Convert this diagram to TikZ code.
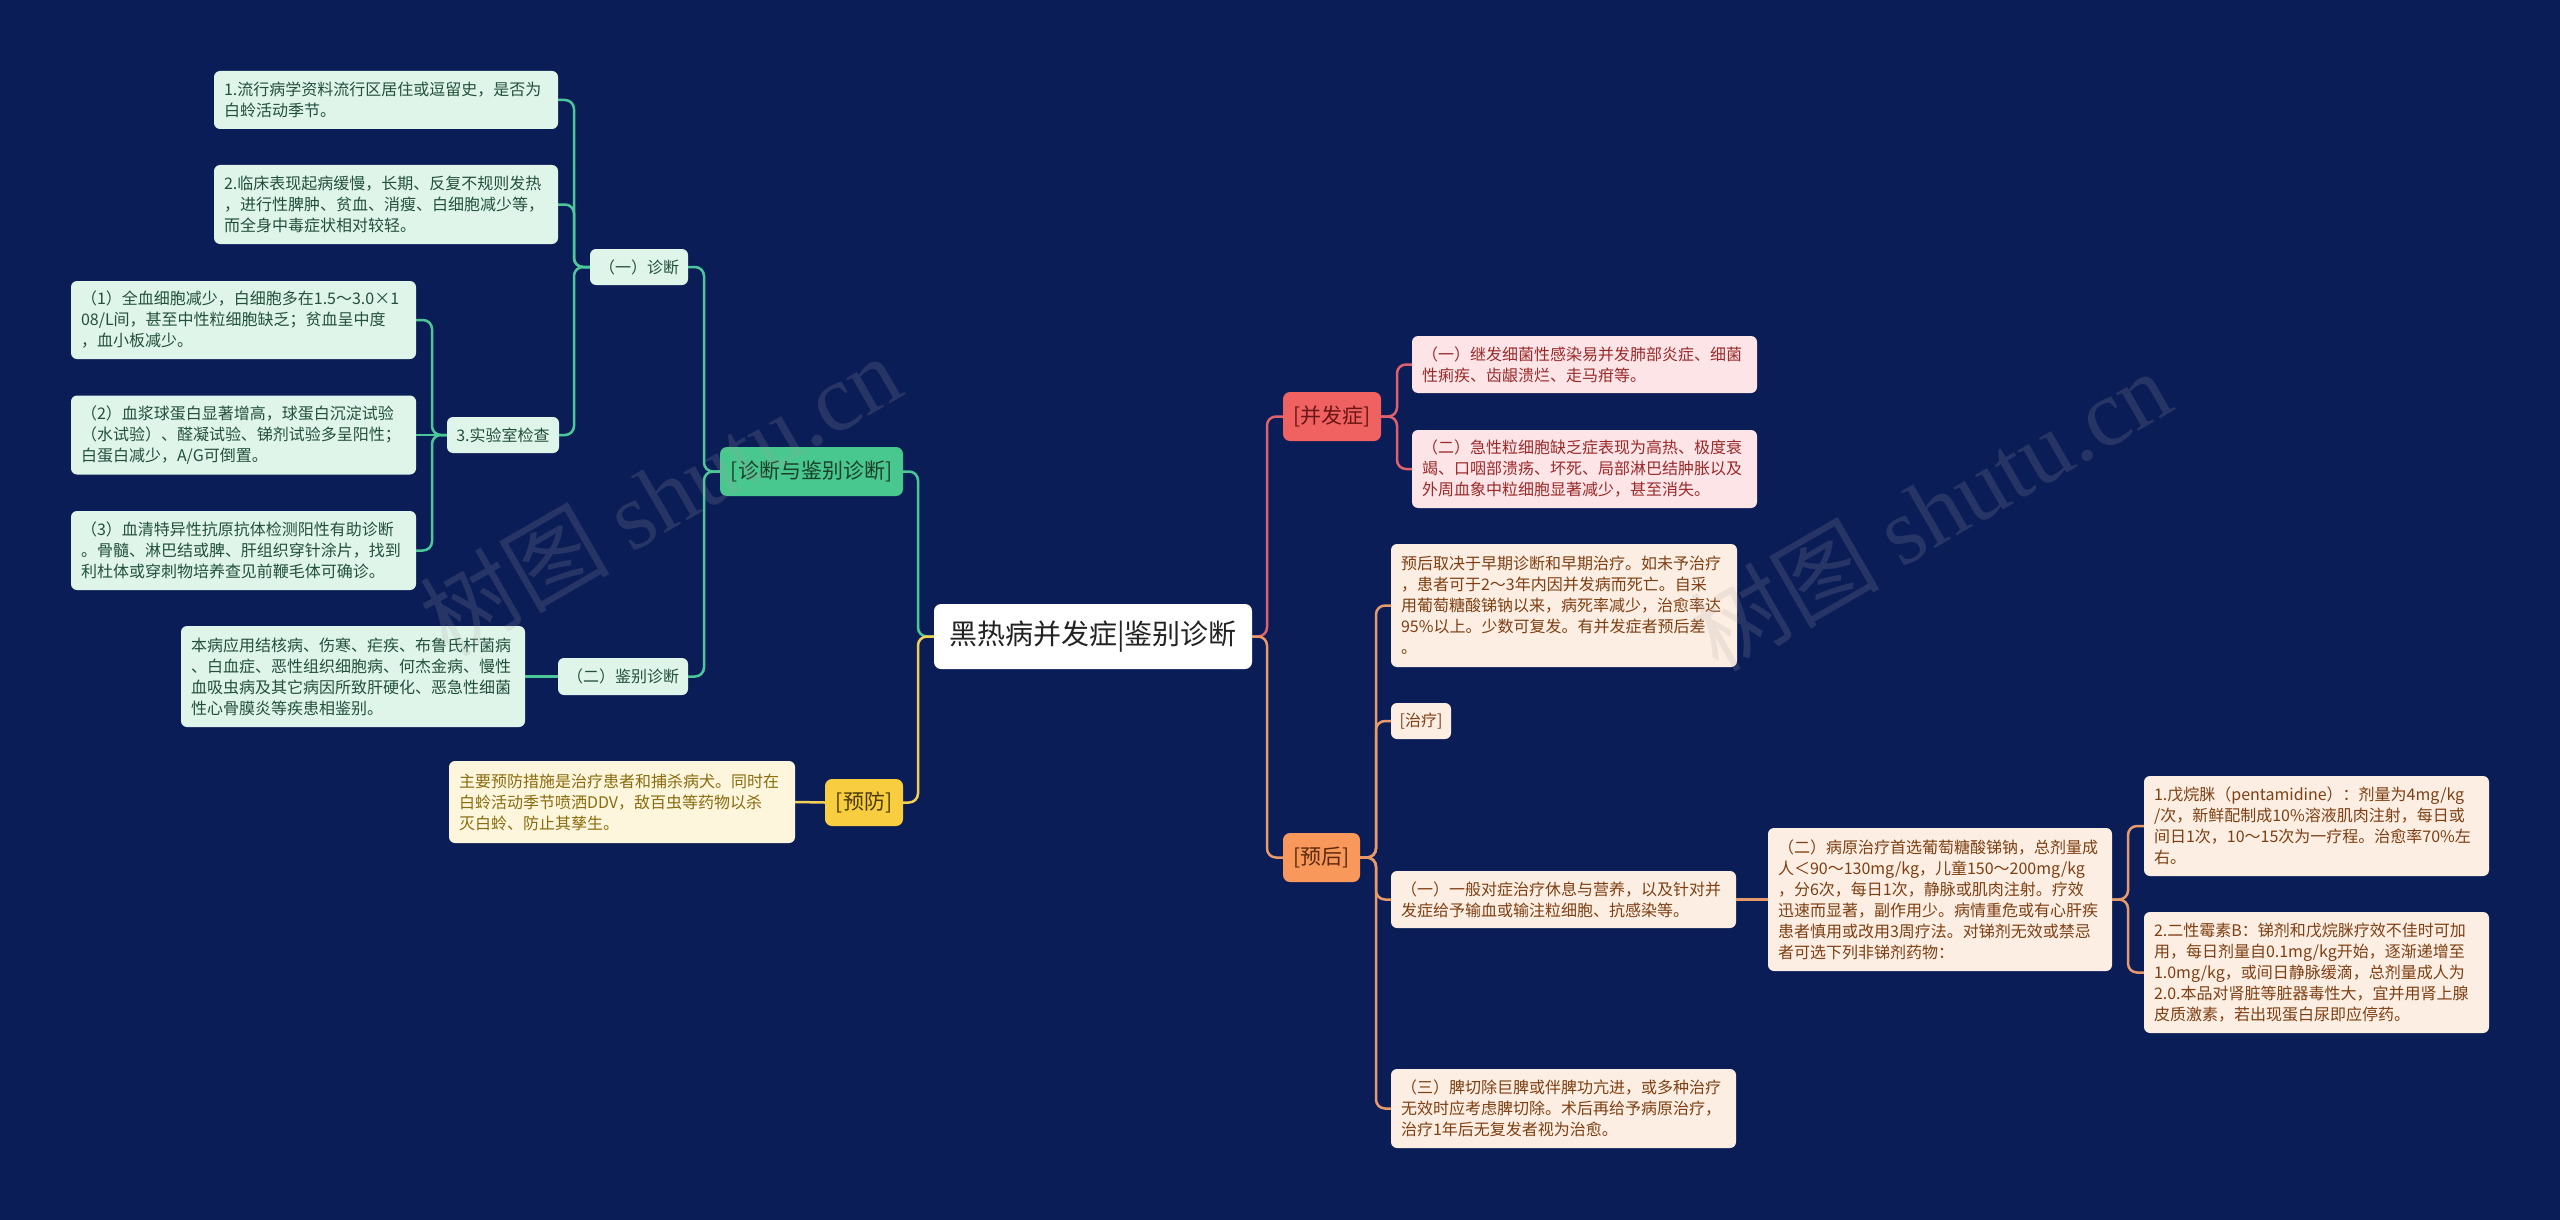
\documentclass[tikz,border=0pt]{standalone}
\usepackage{fontspec}
\setmainfont{Noto Sans CJK SC}
\newfontfamily\wmserif{Liberation Serif}
\definecolor{bg}{HTML}{0B1D57}
\definecolor{gline}{HTML}{4CC79A}
\definecolor{gmain}{HTML}{48C88E}
\definecolor{gmaintext}{HTML}{1C3F2C}
\definecolor{gleaf}{HTML}{DFF5EA}
\definecolor{gtext}{HTML}{23503B}
\definecolor{rline}{HTML}{E0606E}
\definecolor{rmain}{HTML}{F06262}
\definecolor{rmaintext}{HTML}{6A1515}
\definecolor{rleaf}{HTML}{FDE4E7}
\definecolor{rtext}{HTML}{9A2A2A}
\definecolor{oline}{HTML}{E99A6A}
\definecolor{omain}{HTML}{F8985A}
\definecolor{omaintext}{HTML}{5C2A0A}
\definecolor{oleaf}{HTML}{FDEEE3}
\definecolor{otext}{HTML}{7E3F12}
\definecolor{yline}{HTML}{F2CF55}
\definecolor{ymain}{HTML}{F8CD40}
\definecolor{ymaintext}{HTML}{4A3A05}
\definecolor{yleaf}{HTML}{FDF6DC}
\definecolor{ytext}{HTML}{8A6B0E}
\definecolor{roottext}{HTML}{222222}
\begin{document}
\begin{tikzpicture}[x=1pt,y=-1pt,
  box/.style={rounded corners=6pt, inner ysep=0pt, inner xsep=10pt, align=left, font=\fontsize{16}{21}\selectfont},
  midbox/.style={rounded corners=6pt, inner sep=0pt, align=center, font=\fontsize{16}{21}\selectfont},
  mainbox/.style={rounded corners=7pt, inner sep=0pt, align=center, font=\fontsize{21}{25}\selectfont},
  gleafbox/.style={box, fill=gleaf, text=gtext},
  gmid/.style={midbox, fill=gleaf, text=gtext},
  rleafbox/.style={box, fill=rleaf, text=rtext},
  oleafbox/.style={box, fill=oleaf, text=otext},
  omid/.style={midbox, fill=oleaf, text=otext},
  yleafbox/.style={box, fill=yleaf, text=ytext},
  conn/.style={line width=2.5pt, rounded corners=9pt},
  wm/.style={text=gray!70, opacity=0.18, font=\fontsize{95}{100}\selectfont}
]
\useasboundingbox (0,0) rectangle (2560,1220);
\fill[bg] (0,0) rectangle (2560,1220);

% bus coordinates
\coordinate (bL) at (918,0);
\coordinate (bR) at (1267,0);
\coordinate (bDiag) at (704,0);
\coordinate (bD1) at (574,0);
\coordinate (bLab) at (432,0);
\coordinate (bComp) at (1397,0);
\coordinate (bProg) at (1376,0);
\coordinate (bP5) at (2128,0);

% root
\node[rounded corners=7pt, fill=white, text=roottext, inner sep=0pt, minimum width=318pt, minimum height=65pt, font=\fontsize{28}{32}\selectfont] (root) at (1093,636.5) {黑热病并发症|鉴别诊断};

% green branch
\node[mainbox, fill=gmain, text=gmaintext, minimum width=183pt, minimum height=49pt] (diag) at (811.5,471.5) {[诊断与鉴别诊断]};
\node[gmid, minimum width=98pt, minimum height=36pt] (d1) at (639,267) {（一）诊断};
\node[gleafbox, text width=324pt, minimum height=58pt] (t1) at (386,100) {1.流行病学资料流行区居住或逗留史，是否为\\白蛉活动季节。};
\node[gleafbox, text width=324pt, minimum height=79pt] (t2) at (386,204.5) {2.临床表现起病缓慢，长期、反复不规则发热\\，进行性脾肿、贫血、消瘦、白细胞减少等，\\而全身中毒症状相对较轻。};
\node[gmid, minimum width=112pt, minimum height=36pt] (lab) at (503,435) {3.实验室检查};
\node[gleafbox, text width=325pt, minimum height=78pt] (s1) at (243.5,320) {（1）全血细胞减少，白细胞多在1.5～3.0×1\\08/L间，甚至中性粒细胞缺乏；贫血呈中度\\，血小板减少。};
\node[gleafbox, text width=325pt, minimum height=79pt] (s2) at (243.5,435) {（2）血浆球蛋白显著增高，球蛋白沉淀试验\\（水试验）、醛凝试验、锑剂试验多呈阳性；\\白蛋白减少，A/G可倒置。};
\node[gleafbox, text width=325pt, minimum height=79pt] (s3) at (243.5,550.5) {（3）血清特异性抗原抗体检测阳性有助诊断\\。骨髓、淋巴结或脾、肝组织穿针涂片，找到\\利杜体或穿刺物培养查见前鞭毛体可确诊。};
\node[gmid, minimum width=130pt, minimum height=37pt] (d2) at (623,676.5) {（二）鉴别诊断};
\node[gleafbox, text width=324pt, minimum height=101pt] (dd) at (353,676.5) {本病应用结核病、伤寒、疟疾、布鲁氏杆菌病\\、白血症、恶性组织细胞病、何杰金病、慢性\\血吸虫病及其它病因所致肝硬化、恶急性细菌\\性心骨膜炎等疾患相鉴别。};

% yellow branch
\node[mainbox, fill=ymain, text=ymaintext, minimum width=78pt, minimum height=47pt] (prev) at (864,802.5) {[预防]};
\node[yleafbox, text width=326pt, minimum height=82pt] (pv) at (622,802) {主要预防措施是治疗患者和捕杀病犬。同时在\\白蛉活动季节喷洒DDV，敌百虫等药物以杀\\灭白蛉、防止其孳生。};

% red branch
\node[mainbox, fill=rmain, text=rmaintext, minimum width=98pt, minimum height=49pt] (comp) at (1332,416.5) {[并发症]};
\node[rleafbox, text width=325pt, minimum height=57pt] (c1) at (1584.5,364.5) {（一）继发细菌性感染易并发肺部炎症、细菌\\性痢疾、齿龈溃烂、走马疳等。};
\node[rleafbox, text width=325pt, minimum height=78pt] (c2) at (1584.5,469) {（二）急性粒细胞缺乏症表现为高热、极度衰\\竭、口咽部溃疡、坏死、局部淋巴结肿胀以及\\外周血象中粒细胞显著减少，甚至消失。};

% orange branch
\node[mainbox, fill=omain, text=omaintext, minimum width=77pt, minimum height=49pt] (prog) at (1321.5,857.5) {[预后]};
\node[oleafbox, text width=326pt, minimum height=123pt] (p1) at (1564,605.5) {预后取决于早期诊断和早期治疗。如未予治疗\\，患者可于2～3年内因并发病而死亡。自采\\用葡萄糖酸锑钠以来，病死率减少，治愈率达\\95\%以上。少数可复发。有并发症者预后差\\。};
\node[omid, minimum width=60pt, minimum height=36pt] (p2) at (1421,721) {[治疗]};
\node[oleafbox, text width=325pt, minimum height=57pt] (p3) at (1563.5,899.5) {（一）一般对症治疗休息与营养，以及针对并\\发症给予输血或输注粒细胞、抗感染等。};
\node[oleafbox, text width=325pt, minimum height=79pt] (p4) at (1563.5,1108.5) {（三）脾切除巨脾或伴脾功亢进，或多种治疗\\无效时应考虑脾切除。术后再给予病原治疗，\\治疗1年后无复发者视为治愈。};
\node[oleafbox, text width=324pt, minimum height=143pt] (p5) at (1940,899.5) {（二）病原治疗首选葡萄糖酸锑钠，总剂量成\\人＜90～130mg/kg，儿童150～200mg/kg\\，分6次，每日1次，静脉或肌肉注射。疗效\\迅速而显著，副作用少。病情重危或有心肝疾\\患者慎用或改用3周疗法。对锑剂无效或禁忌\\者可选下列非锑剂药物：};
\node[oleafbox, text width=325pt, minimum height=100pt] (p6) at (2316.5,826) {1.戊烷脒（pentamidine）：剂量为4mg/kg\\/次，新鲜配制成10\%溶液肌肉注射，每日或\\间日1次，10～15次为一疗程。治愈率70\%左\\右。};
\node[oleafbox, text width=325pt, minimum height=121pt] (p7) at (2316.5,972.5) {2.二性霉素B：锑剂和戊烷脒疗效不佳时可加\\用，每日剂量自0.1mg/kg开始，逐渐递增至\\1.0mg/kg，或间日静脉缓滴，总剂量成人为\\2.0.本品对肾脏等脏器毒性大，宜并用肾上腺\\皮质激素，若出现蛋白尿即应停药。};

% connectors: green
\draw[conn, gline] (root.west) -- (root.west -| bL) |- (diag.east);
\draw[conn, gline] (diag.west) -- (diag.west -| bDiag) |- (d1.east);
\draw[conn, gline] (diag.west) -- (diag.west -| bDiag) |- (d2.east);
\draw[conn, gline] (d1.west) -- (d1.west -| bD1) |- (t1.east);
\draw[conn, gline] (d1.west) -- (d1.west -| bD1) |- (t2.east);
\draw[conn, gline] (d1.west) -- (d1.west -| bD1) |- (lab.east);
\draw[conn, gline] (lab.west) -- (lab.west -| bLab) |- (s1.east);
\draw[conn, gline] (lab.west) -- (s2.east);
\draw[conn, gline] (lab.west) -- (lab.west -| bLab) |- (s3.east);
\draw[conn, gline] (d2.west) -- (dd.east);
% yellow
\draw[conn, yline] (root.west) -- (root.west -| bL) |- (prev.east);
\draw[conn, yline] (prev.west) -- (pv.east);
% red
\draw[conn, rline] (root.east) -- (root.east -| bR) |- (comp.west);
\draw[conn, rline] (comp.east) -- (comp.east -| bComp) |- (c1.west);
\draw[conn, rline] (comp.east) -- (comp.east -| bComp) |- (c2.west);
% orange
\draw[conn, oline] (root.east) -- (root.east -| bR) |- (prog.west);
\draw[conn, oline] (prog.east) -- (prog.east -| bProg) |- (p1.west);
\draw[conn, oline] (prog.east) -- (prog.east -| bProg) |- (p2.west);
\draw[conn, oline] (prog.east) -- (prog.east -| bProg) |- (p3.west);
\draw[conn, oline] (prog.east) -- (prog.east -| bProg) |- (p4.west);
\draw[conn, oline] (p3.east) -- (p5.west);
\draw[conn, oline] (p5.east) -- (p5.east -| bP5) |- (p6.west);
\draw[conn, oline] (p5.east) -- (p5.east -| bP5) |- (p7.west);

% watermarks
\node[wm, rotate=30] (wm1) at (660,495) {树图 {\wmserif shutu.cn}};
\node[wm, rotate=30] (wm2) at (1930,510) {树图 {\wmserif shutu.cn}};
\end{tikzpicture}
\end{document}
